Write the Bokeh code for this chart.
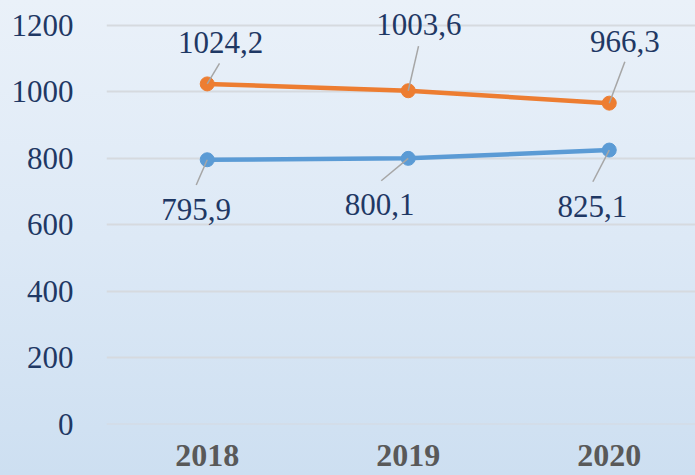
from bokeh.plotting import figure
from bokeh.models import ColumnDataSource, FixedTicker, Range1d, GlobalInlineStyleSheet
from bokeh.core.properties import value
from bokeh.embed import file_html
from bokeh.resources import INLINE

# ---- data ----
years = ["2018", "2019", "2020"]
series_orange = [1024.2, 1003.6, 966.3]
series_blue = [795.9, 800.1, 825.1]
y_ticks = [0, 200, 400, 600, 800, 1000, 1200]

# ---- layout / style ----
W, H = 695, 475
LEFT, BOTTOM = 106, 51
X0, X1 = -0.501, 2.429
Y0, Y1 = -1, 1275.3
ORANGE = "#ED7D31"
BLUE = "#5B9BD5"
NAVY = "#1F3864"
FONT = "Liberation Serif"

# label offsets in screen px (right, down) relative to each point
orange_label_off = [(13.5, -41), (10.6, -66), (15.5, -62)]
orange_leader_off = [(12.3, -20.5), (10.3, -44.6), (15.6, -41.3)]
blue_label_off = [(-11, 50), (-28.7, 46), (-17, 56)]
blue_leader_off = [(-11, 25.3), (-27, 22.4), (-16.4, 31.7)]

css = GlobalInlineStyleSheet(css="""
html { height: 100%; background: linear-gradient(180deg, #eaf1f9 0%, #dde9f6 50%, #cddff1 100%); }
body { background: transparent; }
""")

p = figure(width=W, height=H, output_backend="svg", toolbar_location=None,
           x_range=Range1d(X0, X1), y_range=Range1d(Y0, Y1),
           min_border_left=LEFT, min_border_bottom=BOTTOM,
           min_border_top=0, min_border_right=0)
p.stylesheets = [css]
p.background_fill_alpha = 0
p.border_fill_alpha = 0
p.outline_line_color = None

px_x = (W - LEFT) / (X1 - X0)
px_y = (H - BOTTOM) / (Y1 - Y0)

xs = list(range(len(years)))

# axes
p.yaxis.ticker = FixedTicker(ticks=y_ticks)
p.yaxis.axis_line_color = None
p.yaxis.major_tick_line_color = None
p.yaxis.minor_tick_line_color = None
p.yaxis.major_label_standoff = 27
p.yaxis.major_label_text_font = FONT
p.yaxis.major_label_text_font_size = "31px"
p.yaxis.major_label_text_color = NAVY

p.xaxis.ticker = FixedTicker(ticks=xs)
p.xaxis.major_label_overrides = {i: y for i, y in enumerate(years)}
p.xaxis.axis_line_color = None
p.xaxis.major_tick_line_color = None
p.xaxis.minor_tick_line_color = None
p.xaxis.major_label_standoff = 14
p.xaxis.major_label_text_font = FONT
p.xaxis.major_label_text_font_size = "32px"
p.xaxis.major_label_text_font_style = "bold"
p.xaxis.major_label_text_color = "#595959"

p.xgrid.grid_line_color = None
p.ygrid.grid_line_color = "#d6dadf"
p.ygrid.grid_line_width = 2

def fmt(v):
    return f"{v:.1f}".replace(".", ",")

for vals, color, loff, leoff in [(series_orange, ORANGE, orange_label_off, orange_leader_off),
                                 (series_blue, BLUE, blue_label_off, blue_leader_off)]:
    p.line(xs, vals, line_color=color, line_width=4.5)
    p.scatter(xs, vals, size=14, fill_color=color, line_color=color)
    x1 = [x + dx / px_x for x, (dx, dy) in zip(xs, leoff)]
    y1 = [v - dy / px_y for v, (dx, dy) in zip(vals, leoff)]
    p.segment(x0=xs, y0=vals, x1=x1, y1=y1, line_color="#a6a6a6", line_width=1.5)
    src = ColumnDataSource(dict(x=xs, y=vals, t=[fmt(v) for v in vals],
                                xo=[o[0] for o in loff], yo=[o[1] for o in loff]))
    p.text(x="x", y="y", text="t", x_offset="xo", y_offset="yo", source=src,
           text_font=value(FONT), text_font_size="31px", text_color=NAVY,
           text_align="center", text_baseline="middle")

open("out.html", "w").write(file_html(p, INLINE))
